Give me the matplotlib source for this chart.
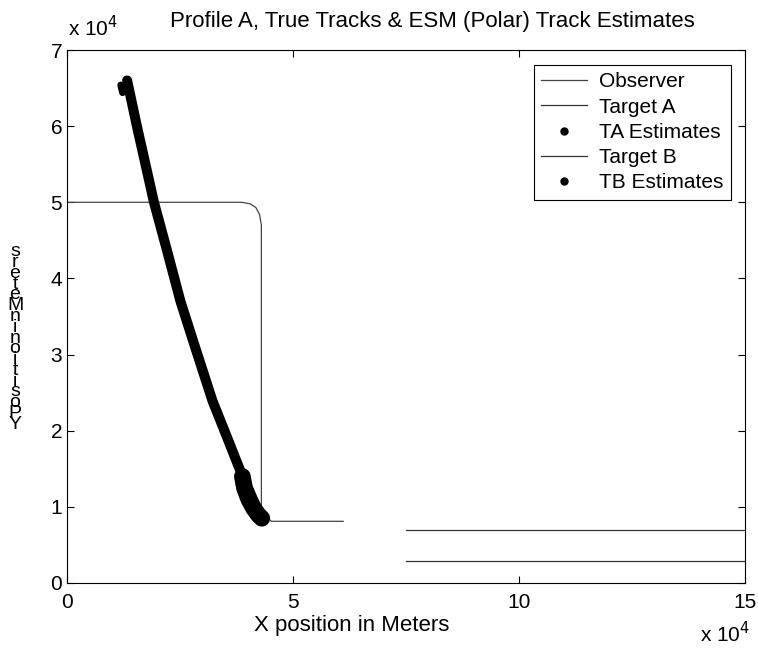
import matplotlib.pyplot as plt
from matplotlib.lines import Line2D

plt.rcParams['font.family'] = ['Liberation Sans', 'DejaVu Sans']

# ---- data (meters) ------------------------------------------------
obs_x = [0, 38700, 40500, 41800, 42600, 43000, 43000, 43400, 45200, 61100]
obs_y = [50000, 50000, 49800, 49300, 48400, 47000, 10000, 9200, 8100, 8100]

tgt_a_x = [75000, 150000]
tgt_a_y = [7000, 7000]

tgt_b_x = [75000, 150000]
tgt_b_y = [2900, 2900]

ta_est_x = [13300, 15500, 18000, 19200, 22200, 25100, 28600, 32200, 35300,
            38300, 41300, 43200]
ta_est_y = [66000, 59900, 53300, 50100, 43500, 37000, 30500, 23900, 19300,
            14800, 10800, 8200]

tb_est_x = [38800, 39300, 40200, 41300, 42400, 43100]
tb_est_y = [14000, 12400, 11000, 9800, 8900, 8500]

# ---- figure -------------------------------------------------------
fig = plt.figure(figsize=(7.58, 6.49), dpi=100)
ax = fig.add_axes([67/758, 1 - 583/649, 678/758, 533/649])

ax.plot(obs_x, obs_y, color='#444444', lw=0.9)
ax.plot(tgt_a_x, tgt_a_y, color='#333333', lw=0.9)
ax.plot(tgt_b_x, tgt_b_y, color='#333333', lw=0.9)

# dense estimate clouds drawn as a thick band of points
ax.plot(ta_est_x, ta_est_y, color='k', lw=7.2, solid_capstyle='round',
        solid_joinstyle='round')
ax.plot([11900, 12300], [65400, 64400], color='k', lw=5, solid_capstyle='round')
ax.plot(tb_est_x, tb_est_y, color='k', lw=12, solid_capstyle='round',
        solid_joinstyle='round')

ax.set_xlim(0, 150000)
ax.set_ylim(0, 70000)
ax.set_xticks([0, 50000, 100000, 150000])
ax.set_xticklabels(['0', '5', '10', '15'])
ax.set_yticks(range(0, 70001, 10000))
ax.set_yticklabels([str(i) for i in range(8)])
ax.tick_params(direction='in', top=True, right=True, labelsize=15,
               length=5, width=0.8)
ax.tick_params(axis='x', pad=7)
for s in ax.spines.values():
    s.set_linewidth(0.8)

fig.text(432/758, 1 - 22/649,
         'Profile A, True Tracks & ESM (Polar) Track Estimates',
         fontsize=16, ha='center', va='center')
fig.text(352/758, 1 - 626/649, 'X position in Meters', fontsize=16,
         ha='center', va='center')

# stacked y label (letters from bottom to top)
ylab = "\n".join(reversed("Y Position in Meters".replace(" ", "")))
fig.text(15/758, 1 - 338/649, ylab, fontsize=14, ha='center', va='center',
         linespacing=0.52)

fig.text(68/758, 1 - 28/649, r'x 10$^4$', fontsize=15, ha='left', va='center')
fig.text(700/758, 1 - 634/649, r'x 10$^4$', fontsize=15, ha='left', va='center')

handles = [
    Line2D([], [], color='#444444', lw=0.9),
    Line2D([], [], color='#333333', lw=0.9),
    Line2D([], [], color='k', marker='o', ms=5, ls='none'),
    Line2D([], [], color='#333333', lw=0.9),
    Line2D([], [], color='k', marker='o', ms=5, ls='none'),
]
leg = ax.legend(handles, ['Observer', 'Target A', 'TA Estimates', 'Target B',
                          'TB Estimates'],
                loc='upper right', bbox_to_anchor=(664/678, 518/533),
                borderaxespad=0, fontsize=15, fancybox=False, framealpha=1,
                edgecolor='k', handlelength=2.2, labelspacing=0.3,
                borderpad=0.35, handletextpad=0.6)
leg.get_frame().set_linewidth(0.8)

fig.savefig('out.png', dpi=100)
